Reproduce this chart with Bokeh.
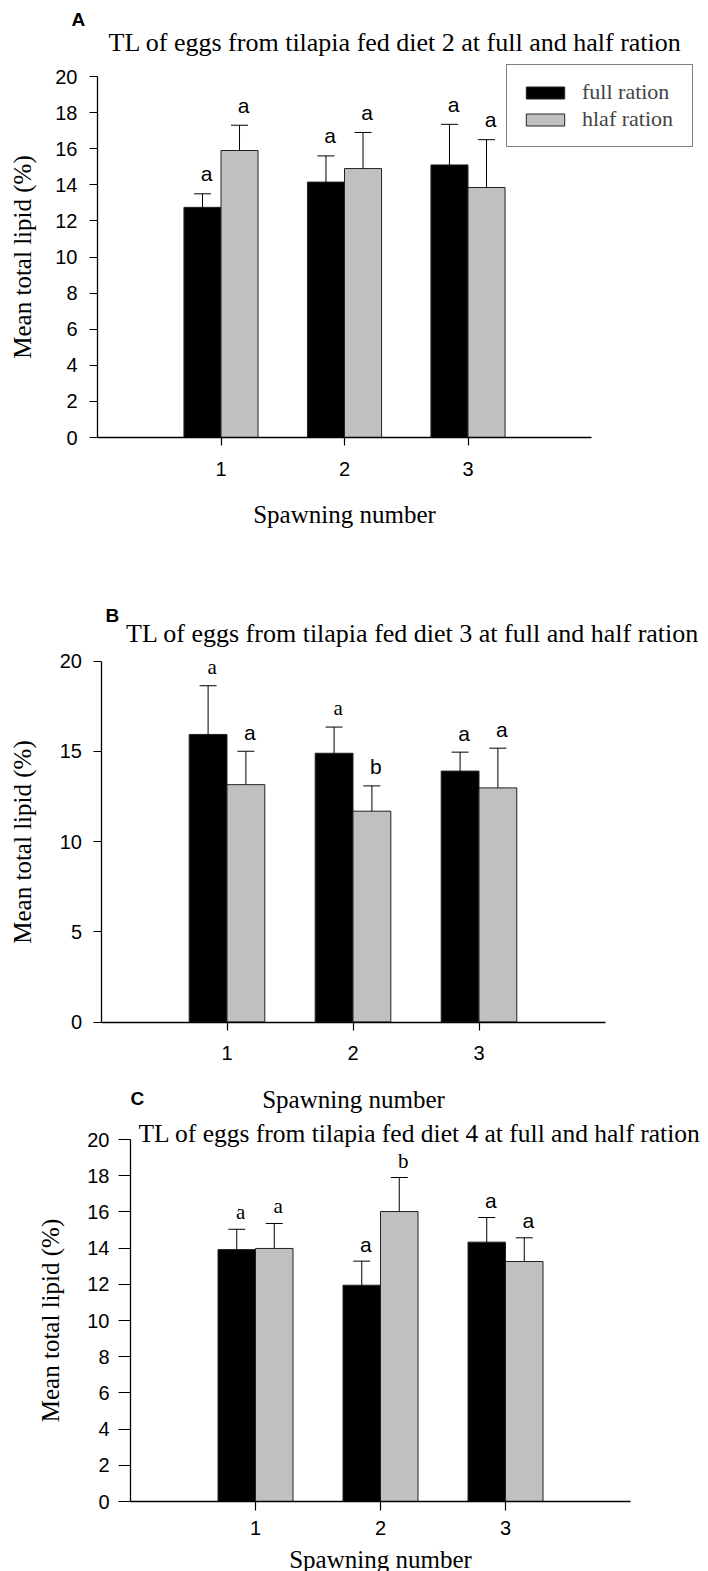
from bokeh.plotting import figure
from bokeh.layouts import column
from bokeh.models import (ColumnDataSource, FixedTicker, Label, LabelSet, Legend,
                          LegendItem, Range1d, Whisker, TeeHead)
from bokeh.embed import file_html
from bokeh.resources import INLINE

# ---- data -------------------------------------------------------------
spawning = [1, 2, 3]
x_tick_labels = ["1", "2", "3"]
series_names = ["full ration", "hlaf ration"]

# Panel A: diet 2
a_full_mean = [12.75, 14.15, 15.10]
a_full_se = [0.75, 1.45, 2.25]
a_half_mean = [15.90, 14.90, 13.85]
a_half_se = [1.40, 2.00, 2.65]
a_full_letters = ["a", "a", "a"]
a_half_letters = ["a", "a", "a"]
a_yticks = [0, 2, 4, 6, 8, 10, 12, 14, 16, 18, 20]

# Panel B: diet 3
b_full_mean = [15.93, 14.89, 13.90]
b_full_se = [2.70, 1.45, 1.05]
b_half_mean = [13.15, 11.68, 12.97]
b_half_se = [1.85, 1.40, 2.20]
b_full_letters = ["a", "a", "a"]
b_half_letters = ["a", "b", "a"]
b_yticks = [0, 5, 10, 15, 20]

# Panel C: diet 4
c_full_mean = [13.92, 11.95, 14.33]
c_full_se = [1.12, 1.33, 1.36]
c_half_mean = [13.98, 16.02, 13.26]
c_half_se = [1.38, 1.88, 1.31]
c_full_letters = ["a", "a", "a"]
c_half_letters = ["a", "b", "a"]
c_yticks = [0, 2, 4, 6, 8, 10, 12, 14, 16, 18, 20]

# ---- styling ----------------------------------------------------------
SANS = "Liberation Sans"
SERIF = "Liberation Serif"
GREY = "#c0c0c0"
BAR_W = 0.3
X_MAX, Y_MAX = 4, 20

# which significance letters are set in the serif face: (series index, spawning index)
serif_letters = {
    "A": set(),
    "B": {(0, 0), (0, 1)},
    "C": {(0, 0), (1, 0), (1, 1)},
}


def make_panel(tag, title, full_mean, full_se, half_mean, half_se,
               full_letters, half_letters, yticks, geo, legend=False):
    W, H = 708, geo["height"]
    # pixel box of the data area (0..4 x 0..20) inside this figure
    x0, x1, y_top, y_bot = geo["box"]
    ux = (x1 - x0) / X_MAX
    uy = (y_bot - y_top) / Y_MAX
    xr = Range1d(-x0 / ux, X_MAX + (W - x1) / ux)
    yr = Range1d(-(H - y_bot) / uy, Y_MAX + y_top / uy)

    p = figure(width=W, height=H, output_backend="svg", toolbar_location=None,
               title=None, x_range=xr, y_range=yr, min_border=0)
    p.outline_line_color = None
    p.grid.grid_line_color = None
    p.background_fill_color = "white"
    p.border_fill_color = "white"

    renderers = []
    for k, (mean, se, letters, color) in enumerate(
            [(full_mean, full_se, full_letters, "black"),
             (half_mean, half_se, half_letters, GREY)]):
        shift = -BAR_W / 2 if k == 0 else BAR_W / 2
        xs = [s + shift for s in spawning]
        tops = [m + e for m, e in zip(mean, se)]
        fonts = [SERIF if (k, i) in serif_letters[tag] else SANS for i in range(3)]
        src = ColumnDataSource(dict(x=xs, mean=mean, top=tops, letter=letters, font=fonts))
        r = p.vbar(x="x", top="mean", bottom=0, width=BAR_W, source=src,
                   fill_color=color, line_color="#222222", line_width=1)
        renderers.append(r)
        p.add_layout(Whisker(source=src, base="x", lower="mean", upper="top",
                             dimension="height", lower_head=None,
                             upper_head=TeeHead(size=17, line_width=1, line_color="black"),
                             line_width=1, line_color="black", level="overlay"))
        p.add_layout(LabelSet(source=src, x="x", y="top", text="letter",
                              text_font="font", text_font_size="21px",
                              text_align="center", text_baseline="middle",
                              x_offset=4, y_offset=geo["letter_gap"], text_color="black"))

    xa = p.xaxis[0]
    xa.ticker = FixedTicker(ticks=spawning)
    xa.major_label_overrides = {s: t for s, t in zip(spawning, x_tick_labels)}
    xa.axis_label = "Spawning number"
    xa.fixed_location = 0
    xa.bounds = (0, X_MAX)
    ya = p.yaxis[0]
    ya.ticker = FixedTicker(ticks=yticks)
    ya.axis_label = "Mean total lipid (%)"
    ya.fixed_location = 0
    ya.bounds = (0, Y_MAX)
    for ax, tick_len, lab_so, axl_so in [(xa, geo["xtick"], geo["x_lab"], geo["x_axl"]),
                                         (ya, geo["ytick"], geo["y_lab"], geo["y_axl"])]:
        ax.axis_line_color = "black"
        ax.axis_line_width = 1.3
        ax.major_tick_line_color = "black"
        ax.major_tick_line_width = 1.2
        ax.major_tick_out = tick_len
        ax.major_tick_in = 0
        ax.minor_tick_line_color = None
        ax.major_label_text_font = SANS
        ax.major_label_text_font_size = "20px"
        ax.major_label_text_color = "black"
        ax.major_label_standoff = lab_so
        ax.axis_label_text_font = SERIF
        ax.axis_label_text_font_size = "25px"
        ax.axis_label_text_font_style = "normal"
        ax.axis_label_text_color = "black"
        ax.axis_label_standoff = axl_so

    # title and panel tag, positioned in pixels from the figure's top-left
    tx, ty = geo["title_xy"]
    p.add_layout(Label(x=tx, y=H - ty, x_units="screen", y_units="screen", text=title,
                       text_font=SERIF, text_font_size=geo["title_size"],
                       text_baseline="middle", text_align="left", text_color="black"))
    for tag_text, (lx, ly) in geo["tags"]:
        p.add_layout(Label(x=lx, y=H - ly, x_units="screen", y_units="screen", text=tag_text,
                           text_font=SANS, text_font_size="19px", text_font_style="bold",
                           text_baseline="middle", text_align="left", text_color="black"))

    if legend:
        lx, ly = geo["legend_xy"]
        leg = Legend(items=[LegendItem(label=series_names[0], renderers=[renderers[0]]),
                            LegendItem(label=series_names[1], renderers=[renderers[1]])],
                     location=(lx, H - ly), orientation="vertical",
                     padding=14, spacing=1, margin=0,
                     glyph_width=48, glyph_height=15, label_height=22, label_width=96,
                     label_standoff=13, label_text_font=SERIF, label_text_font_size="22px",
                     border_line_color="black", border_line_width=1,
                     background_fill_color="white", background_fill_alpha=1.0)
        p.add_layout(leg, "center")
    return p


# box = (x of 0, x of 4, y of 20, y of 0) in figure pixels
geo_a = dict(height=580, box=(97, 591, 76, 437),
             xtick=8, ytick=8, x_lab=16, x_axl=22, y_lab=12, y_axl=16,
             title_xy=(108, 42), title_size="26px", tags=[("A", (71, 18.5))],
             legend_xy=(506, 147), letter_gap=20)
geo_b = dict(height=535, box=(100.5, 604.5, 80.5, 441.5),
             xtick=8, ytick=8, x_lab=16, x_axl=22, y_lab=11, y_axl=21,
             title_xy=(125.5, 53), title_size="26px",
             tags=[("B", (105, 35)), ("C", (130, 518))], letter_gap=19)
geo_c = dict(height=456, box=(130, 630, 24, 386),
             xtick=9, ytick=12, x_lab=10, x_axl=8, y_lab=9, y_axl=20,
             title_xy=(138, 18), title_size="25.5px", tags=[], letter_gap=17)

title_a = "TL of eggs from tilapia  fed diet 2 at full and half ration"
title_b = "TL of eggs from tilapia  fed diet 3 at full and half ration"
title_c = "TL of eggs from tilapia  fed diet 4 at full and half ration"

pa = make_panel("A", title_a, a_full_mean, a_full_se, a_half_mean, a_half_se,
                a_full_letters, a_half_letters, a_yticks, geo_a, legend=True)
pb = make_panel("B", title_b, b_full_mean, b_full_se, b_half_mean, b_half_se,
                b_full_letters, b_half_letters, b_yticks, geo_b)
pc = make_panel("C", title_c, c_full_mean, c_full_se, c_half_mean, c_half_se,
                c_full_letters, c_half_letters, c_yticks, geo_c)

layout = column(pa, pb, pc, spacing=0)
open("out.html", "w").write(file_html(layout, INLINE))
